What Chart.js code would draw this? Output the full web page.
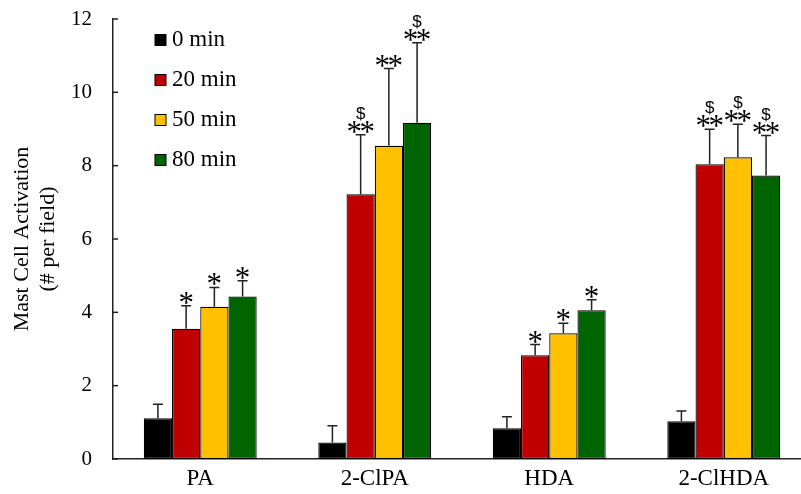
<!DOCTYPE html>
<html>
<head>
<meta charset="utf-8">
<script src="https://cdn.jsdelivr.net/npm/chart.js@4"></script>
<style>
  html, body { margin: 0; padding: 0; background: #fff; overflow: hidden; }
  #wrap { width: 811px; height: 494px; }
</style>
</head>
<body>
<div id="wrap"><canvas id="chart" width="811" height="494"></canvas></div>
<script>
// groups on the x axis
var categories = ['PA', '2-ClPA', 'HDA', '2-ClHDA'];
var seriesNames = ['0 min', '20 min', '50 min', '80 min'];
var seriesColors = ['#000000', '#C00000', '#FFC000', '#006400'];

// means per time point
var min0 = [1.11, 0.45, 0.84, 1.03];
var min20 = [3.55, 7.22, 2.83, 8.04];
var min50 = [4.15, 8.54, 3.43, 8.23];
var min80 = [4.43, 9.17, 4.06, 7.73];

// error (upper bar only)
var err0 = [0.38, 0.46, 0.31, 0.28];
var err20 = [0.63, 1.62, 0.29, 0.95];
var err50 = [0.53, 2.11, 0.27, 0.90];
var err80 = [0.43, 2.18, 0.28, 1.09];

// significance marks
var stars0 = ['', '', '', ''];
var stars20 = ['*', '**', '*', '**'];
var stars50 = ['*', '**', '*', '**'];
var stars80 = ['*', '**', '*', '**'];
var dollar0 = [false, false, false, false];
var dollar20 = [false, true, false, true];
var dollar50 = [false, false, false, true];
var dollar80 = [false, true, false, true];

var yTicks = [0, 2, 4, 6, 8, 10, 12];

var values = [min0, min20, min50, min80];
var errs = [err0, err20, err50, err80];
var stars = [stars0, stars20, stars50, stars80];
var dollars = [dollar0, dollar20, dollar50, dollar80];

const serif = "'Liberation Serif', 'Times New Roman', serif";

const extras = {
    id: 'extras',
    afterDatasetsDraw(chart) {
        const ctx = chart.ctx;
        const y = chart.scales.y;
        const area = chart.chartArea;
        ctx.save();

        // inward tick marks on the y axis
        ctx.strokeStyle = '#222';
        ctx.lineWidth = 1.5;
        yTicks.forEach(v => {
            const py = y.getPixelForValue(v);
            ctx.beginPath();
            ctx.moveTo(area.left, py);
            ctx.lineTo(area.left + 5, py);
            ctx.stroke();
        });

        values.forEach((vals, i) => {
            const meta = chart.getDatasetMeta(i);
            meta.data.forEach((bar, j) => {
                const top = y.getPixelForValue(vals[j] + errs[i][j]);
                // error bar
                ctx.strokeStyle = '#222';
                ctx.lineWidth = 1.5;
                ctx.beginPath();
                ctx.moveTo(bar.x, bar.y);
                ctx.lineTo(bar.x, top);
                ctx.moveTo(bar.x - 5, top);
                ctx.lineTo(bar.x + 5, top);
                ctx.stroke();

                // stars
                const mark = stars[i][j];
                if (!mark) return;
                ctx.fillStyle = '#000';
                ctx.font = '31px ' + serif;
                ctx.textAlign = 'center';
                ctx.textBaseline = 'alphabetic';
                const m = ctx.measureText('*');
                const bottom = top - 2;
                const base = bottom - m.actualBoundingBoxDescent;
                const starTop = bottom - (m.actualBoundingBoxAscent + m.actualBoundingBoxDescent);
                if (mark == '*') {
                    ctx.fillText('*', bar.x, base);
                } else {
                    ctx.fillText('*', bar.x - 6.5, base);
                    ctx.fillText('*', bar.x + 6.5, base);
                }
                if (dollars[i][j]) {
                    ctx.font = "17px 'Liberation Sans', Arial, sans-serif";
                    const d = ctx.measureText('$');
                    ctx.fillText('$', bar.x, starTop - d.actualBoundingBoxDescent);
                }
            });
        });

        // legend inside the plot
        seriesNames.forEach((name, i) => {
            const ry = 40 + 40 * i;
            ctx.fillStyle = seriesColors[i];
            ctx.fillRect(155, ry - 5.5, 11, 11);
            ctx.strokeStyle = '#000';
            ctx.lineWidth = 1;
            ctx.strokeRect(155, ry - 5.5, 11, 11);
            ctx.fillStyle = '#000';
            ctx.font = '23px ' + serif;
            ctx.textAlign = 'left';
            ctx.textBaseline = 'middle';
            ctx.fillText(name, 172, ry);
        });
        ctx.restore();
    }
};

const datasets = values.map((vals, i) => ({
    label: seriesNames[i],
    data: vals,
    backgroundColor: seriesColors[i],
    borderColor: '#000',
    borderWidth: 1.2,
    borderSkipped: false,
    categoryPercentage: 0.647,
    barPercentage: 1.0
}));

new Chart(document.getElementById('chart').getContext('2d'), {
    type: 'bar',
    data: { labels: categories, datasets: datasets },
    options: {
        responsive: false,
        animation: false,
        layout: { padding: { top: 19, left: 0, right: 0, bottom: 0 } },
        plugins: {
            legend: { display: false },
            tooltip: { enabled: false }
        },
        scales: {
            x: {
                grid: { display: false, drawTicks: false },
                border: { display: true, color: '#222', width: 1.5 },
                ticks: { color: '#000', padding: 6, font: { family: serif, size: 23 } },
                afterFit: (scale) => { scale.height = 35; }
            },
            y: {
                min: 0,
                max: 12,
                grid: { display: false, drawTicks: false },
                border: { display: true, color: '#222', width: 1.5 },
                ticks: { stepSize: 2, color: '#000', padding: 21, font: { family: serif, size: 21 } },
                title: {
                    display: true,
                    text: ['Mast Cell Activation', '(# per field)'],
                    color: '#000',
                    padding: { top: 9, bottom: 0 },
                    font: { family: serif, size: 22, lineHeight: 1.2 }
                },
                afterFit: (scale) => {
                    scale.width = 113;
                    scale.paddingTop = 0;
                    scale.paddingBottom = 0;
                }
            }
        }
    },
    plugins: [extras]
});
</script>
</body>
</html>
